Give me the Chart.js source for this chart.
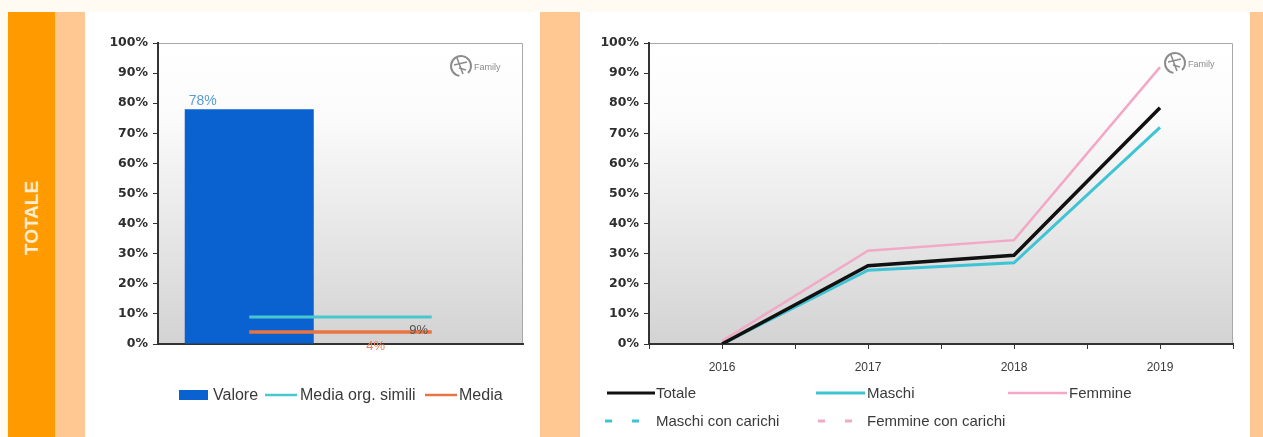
<!DOCTYPE html>
<html><head><meta charset="utf-8">
<script src="https://cdn.jsdelivr.net/npm/chart.js@4"></script>
<style>
html,body{margin:0;padding:0;}
body{width:1263px;height:437px;background:#FFFBF3;position:relative;overflow:hidden;font-family:"Liberation Sans",Arial,sans-serif;}
.blk{position:absolute;}
</style></head><body>
<div class="blk" style="left:8px;top:12px;width:47px;height:425px;background:#FF9A00"></div>
<div class="blk" style="left:55px;top:12px;width:30px;height:425px;background:#FFC792"></div>
<div class="blk" style="left:85px;top:12px;width:455px;height:425px;background:#FFFFFF"></div>
<div class="blk" style="left:540px;top:12px;width:40px;height:425px;background:#FFC792"></div>
<div class="blk" style="left:580px;top:12px;width:670px;height:425px;background:#FFFFFF"></div>
<div class="blk" style="left:1250px;top:12px;width:13px;height:425px;background:#FFC792"></div>
<div class="blk" style="left:32px;top:218px;transform:translate(-50%,-50%) rotate(-90deg);color:#FFEDD0;font-weight:bold;font-size:19px;white-space:nowrap;">TOTALE</div>
<div class="blk" style="left:85px;top:12px;width:455px;height:425px"><canvas id="c1" width="455" height="425"></canvas></div>
<div class="blk" style="left:580px;top:12px;width:670px;height:425px"><canvas id="c2" width="670" height="425"></canvas></div>
<script>
// ---- data ----
const leftCategories = ['', ''];
const valore = [78, null];
const mediaOrgSimili = [9, 9];
const media = [4, 4];

const years = ['2016', '2017', '2018', '2019'];
const totale = [0, 26, 29.5, 78.5];
const maschi = [0, 24.5, 27, 72];
const femmine = [1, 31, 34.5, 92];
const maschiConCarichi = [];
const femmineConCarichi = [];

const yMin = 0, yMax = 100, yStep = 10;

// ---- plugins ----
const plotBg = {
  id: 'plotBg',
  beforeDraw(chart) {
    const {ctx, chartArea: a} = chart;
    const g = ctx.createLinearGradient(0, a.top, 0, a.bottom);
    g.addColorStop(0, '#FFFFFF');
    g.addColorStop(0.25, '#FBFBFB');
    g.addColorStop(1, '#D3D3D3');
    ctx.save();
    ctx.fillStyle = g;
    ctx.fillRect(a.left, a.top, a.right - a.left, a.bottom - a.top);
    ctx.strokeStyle = '#A8A8A8';
    ctx.lineWidth = 1;
    ctx.beginPath();
    ctx.moveTo(a.left, a.top + 0.5);
    ctx.lineTo(a.right - 0.5, a.top + 0.5);
    ctx.lineTo(a.right - 0.5, a.bottom);
    ctx.stroke();
    ctx.restore();
  }
};

const logo = {
  id: 'logo',
  beforeDatasetsDraw(chart, args, o) {
    const {ctx, chartArea: a} = chart;
    const cx = a.right - o.dx, cy = a.top + o.dy;
    ctx.save();
    ctx.strokeStyle = '#8C8C8C';
    ctx.lineWidth = 2;
    ctx.beginPath(); ctx.arc(cx, cy, 10, 0.55 * Math.PI, 2.25 * Math.PI); ctx.stroke();
    ctx.lineWidth = 1.6;
    ctx.beginPath();
    ctx.moveTo(cx - 4, cy - 8); ctx.lineTo(cx + 2, cy + 8);
    ctx.moveTo(cx - 7, cy - 1); ctx.lineTo(cx + 6, cy - 4);
    ctx.moveTo(cx - 2, cy + 2); ctx.lineTo(cx + 5, cy + 4);
    ctx.stroke();
    ctx.fillStyle = '#8C8C8C';
    ctx.font = '9px "Liberation Sans"';
    ctx.textBaseline = 'middle';
    ctx.fillText('Family', cx + 13, cy + 2);
    ctx.restore();
  }
};

const valueLabels = {
  id: 'valueLabels',
  afterDatasetsDraw(chart, args, o) {
    const {ctx} = chart;
    (o.items || []).forEach(it => {
      const el = chart.getDatasetMeta(it.ds).data[it.idx];
      const v = chart.data.datasets[it.ds].data[it.idx];
      if (!el || v == null) return;
      let x = el.x + it.dx;
      if (it.fromBarLeft) x = el.x - el.width / 2 + it.dx;
      const y = el.y + it.dy;
      ctx.save();
      ctx.font = it.font;
      ctx.fillStyle = it.color;
      ctx.textAlign = it.align || 'center';
      ctx.textBaseline = 'middle';
      ctx.fillText(Math.round(v) + '%', x, y);
      ctx.restore();
    });
  }
};

const customLegend = {
  id: 'customLegend',
  afterDraw(chart, args, o) {
    const {ctx} = chart;
    ctx.save();
    ctx.font = o.font;
    ctx.textBaseline = 'middle';
    ctx.textAlign = 'left';
    o.items.forEach(it => {
      const ds = chart.data.datasets[it.ds];
      if (it.kind === 'box') {
        ctx.fillStyle = ds.backgroundColor;
        ctx.fillRect(it.x, it.y - it.h / 2, it.w, it.h);
      } else {
        ctx.strokeStyle = ds.borderColor;
        ctx.lineWidth = it.lw || ds.borderWidth;
        ctx.setLineDash(it.dash || []);
        ctx.beginPath();
        ctx.moveTo(it.x, it.y);
        ctx.lineTo(it.x + it.w, it.y);
        ctx.stroke();
        ctx.setLineDash([]);
      }
      ctx.fillStyle = o.color;
      ctx.fillText(ds.label, it.textX, it.y + 1);
    });
    ctx.restore();
  }
};

const tickFont = {family: 'DejaVu Sans', weight: 'bold', size: 12.5};
const yScale = (w) => ({
  min: yMin, max: yMax,
  ticks: {stepSize: yStep, callback: v => v + '%', font: tickFont, color: '#2E2E2E', padding: 5},
  grid: {drawOnChartArea: false, drawTicks: true, tickLength: 5, tickColor: '#333', color: '#333'},
  border: {display: true, color: '#333', width: 2},
  afterFit(s) { s.width = w; }
});

// ---- left chart ----
new Chart(document.getElementById('c1'), {
  type: 'bar',
  data: {
    labels: leftCategories,
    datasets: [
      {type: 'bar', label: 'Valore', data: valore, backgroundColor: '#0A62D0', borderWidth: 0,
       categoryPercentage: 1, barPercentage: 0.707, order: 3},
      {type: 'line', label: 'Media org. simili', data: mediaOrgSimili, borderColor: '#48C7CF',
       borderWidth: 3, pointRadius: 0, order: 2},
      {type: 'line', label: 'Media', data: media, borderColor: '#EA7440',
       borderWidth: 3.5, pointRadius: 0, order: 1}
    ]
  },
  options: {
    responsive: false, animation: false, devicePixelRatio: 1,
    layout: {padding: {left: 0, top: 31, right: 17, bottom: 83}},
    plugins: {
      legend: {display: false}, tooltip: {enabled: false},
      logo: {dx: 62, dy: 23},
      valueLabels: {items: [
        {ds: 0, idx: 0, fromBarLeft: true, dx: 4, dy: -8, align: 'left', color: '#5B9BD5', font: '14px "Liberation Sans"'},
        {ds: 1, idx: 1, dx: -13, dy: 14, color: '#555555', font: '13px "Liberation Sans"'},
        {ds: 2, idx: 1, dx: -56, dy: 14, color: '#F0805A', font: '13px "Liberation Sans"'}
      ]},
      customLegend: {font: '16px "Liberation Sans"', color: '#3A3A3A', items: [
        {ds: 0, kind: 'box', x: 94, y: 383, w: 29, h: 10, textX: 128},
        {ds: 1, kind: 'line', x: 180, y: 383, w: 32, lw: 2.5, textX: 215},
        {ds: 2, kind: 'line', x: 340, y: 383, w: 32, lw: 2.5, textX: 374}
      ]}
    },
    scales: {
      x: {type: 'category', offset: true, grid: {display: false}, ticks: {display: false},
          border: {display: true, color: '#333', width: 2}, afterFit(s) { s.height = 10; }},
      y: yScale(73)
    }
  },
  plugins: [plotBg, logo, valueLabels, customLegend]
});

// ---- right chart ----
const pts = arr => arr.map((v, i) => ({x: i, y: v}));
new Chart(document.getElementById('c2'), {
  type: 'line',
  data: {
    datasets: [
      {label: 'Totale', data: pts(totale), borderColor: '#111111', borderWidth: 3.5, pointRadius: 0, tension: 0, order: 1},
      {label: 'Maschi', data: pts(maschi), borderColor: '#3EC4D4', borderWidth: 3, pointRadius: 0, tension: 0, order: 2},
      {label: 'Femmine', data: pts(femmine), borderColor: '#F2A8C6', borderWidth: 2.5, pointRadius: 0, tension: 0, order: 3},
      {label: 'Maschi con carichi', data: pts(maschiConCarichi), borderColor: '#3EC4D4', borderDash: [7, 20], borderWidth: 2.5, pointRadius: 0, order: 4},
      {label: 'Femmine con carichi', data: pts(femmineConCarichi), borderColor: '#F2A8C6', borderDash: [7, 20], borderWidth: 2.5, pointRadius: 0, order: 5}
    ]
  },
  options: {
    responsive: false, animation: false, devicePixelRatio: 1,
    layout: {padding: {left: 0, top: 31, right: 17, bottom: 63}},
    plugins: {
      legend: {display: false}, tooltip: {enabled: false},
      logo: {dx: 58, dy: 20},
      customLegend: {font: '15px "Liberation Sans"', color: '#3A3A3A', items: [
        {ds: 0, kind: 'line', x: 27, y: 381, w: 48, lw: 3, textX: 76},
        {ds: 1, kind: 'line', x: 236, y: 381, w: 49, lw: 3, textX: 287},
        {ds: 2, kind: 'line', x: 428, y: 381, w: 59, lw: 2.5, textX: 489},
        {ds: 3, kind: 'line', x: 25, y: 409, w: 48, lw: 3, dash: [7, 20], textX: 76},
        {ds: 4, kind: 'line', x: 238, y: 409, w: 48, lw: 3, dash: [7, 20], textX: 287}
      ]}
    },
    scales: {
      x: {type: 'linear', min: -0.5, max: 3.5,
          ticks: {stepSize: 0.5, autoSkip: false, maxRotation: 0, padding: 11, color: '#3A3A3A',
                  font: {family: 'Liberation Sans', size: 12},
                  callback: v => Number.isInteger(v) ? years[v] : ''},
          grid: {drawOnChartArea: false, drawTicks: true, tickLength: 5, tickColor: '#333', color: '#333'},
          border: {display: true, color: '#333', width: 2},
          afterFit(s) { s.height = 30; }},
      y: yScale(69)
    }
  },
  plugins: [plotBg, logo, customLegend]
});
</script>
</body></html>
